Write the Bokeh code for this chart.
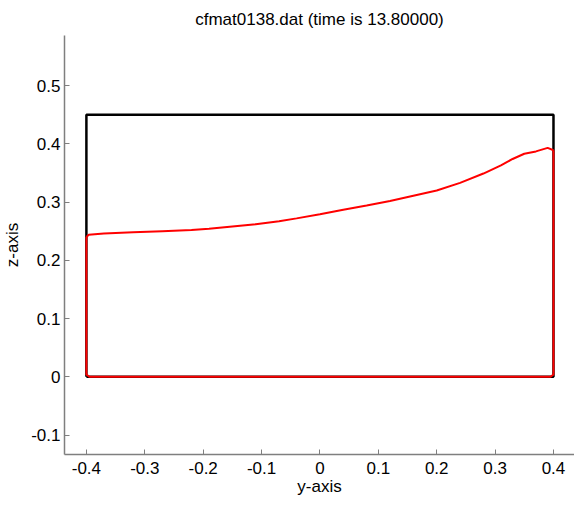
from bokeh.plotting import figure
from bokeh.models import Range1d, FixedTicker
from bokeh.embed import file_html
from bokeh.resources import INLINE

# Tank outline
tank_y = [-0.4, -0.4, 0.4, 0.4, -0.4]
tank_z = [0.0, 0.45, 0.45, 0.0, 0.0]

# Free surface (y, z)
surf_y = [-0.400, -0.396, -0.37, -0.32, -0.27, -0.22, -0.19, -0.15, -0.11, -0.07, -0.04,
          0.00, 0.04, 0.08, 0.12, 0.16, 0.20, 0.24, 0.28, 0.31, 0.33, 0.35, 0.37, 0.39, 0.40]
surf_z = [0.240, 0.244, 0.246, 0.248, 0.250, 0.252, 0.254, 0.258, 0.262, 0.267, 0.272,
          0.279, 0.287, 0.294, 0.302, 0.311, 0.320, 0.333, 0.349, 0.363, 0.374, 0.383, 0.387, 0.393, 0.389]

# Fluid outline below the surface: right wall, bottom, left wall
wall_y = [0.40, 0.40, 0.395, -0.395, -0.40, -0.40]
wall_z = [0.389, 0.004, 0.0, 0.0, 0.004, 0.240]

x_ticks = [-0.4, -0.3, -0.2, -0.1, 0.0, 0.1, 0.2, 0.3, 0.4]
x_labels = ["-0.4", "-0.3", "-0.2", "-0.1", "0", "0.1", "0.2", "0.3", "0.4"]
z_ticks = [-0.1, 0.0, 0.1, 0.2, 0.3, 0.4, 0.5]
z_labels = ["-0.1", "0", "0.1", "0.2", "0.3", "0.4", "0.5"]

FONT = "Liberation Sans"

p = figure(width=574, height=505, output_backend="svg", toolbar_location=None,
           x_range=Range1d(-0.4375, 0.436), y_range=Range1d(-0.1334, 0.586),
           min_border_left=64, min_border_right=0, min_border_top=35, min_border_bottom=51,
           title="cfmat0138.dat (time is 13.80000)")
p.title.align = "center"
p.title.text_font = FONT
p.title.text_font_size = "17px"
p.title.text_font_style = "normal"
p.title.text_color = "#000000"
p.title.standoff = 13

p.grid.visible = False
p.outline_line_color = None
p.background_fill_color = "white"
p.border_fill_color = "white"

for ax in (p.xaxis[0], p.yaxis[0]):
    ax.axis_line_color = "#7f7f7f"
    ax.axis_line_width = 1.5
    ax.major_tick_line_color = "#7f7f7f"
    ax.major_tick_in = 5
    ax.major_tick_out = 0
    ax.minor_tick_line_color = None
    ax.major_label_text_font = FONT
    ax.major_label_text_font_size = "17px"
    ax.major_label_text_color = "#000000"
    ax.axis_label_text_font = FONT
    ax.axis_label_text_font_size = "17px"
    ax.axis_label_text_font_style = "normal"
    ax.axis_label_text_color = "#000000"

p.xaxis.ticker = FixedTicker(ticks=x_ticks)
p.xaxis.major_label_overrides = {t: l for t, l in zip(x_ticks, x_labels)}
p.yaxis.ticker = FixedTicker(ticks=z_ticks)
p.yaxis.major_label_overrides = {t: l for t, l in zip(z_ticks, z_labels)}
p.xaxis.axis_label = "y-axis"
p.yaxis.axis_label = "z-axis"
p.xaxis.major_label_standoff = 7
p.yaxis.major_label_standoff = 4
p.xaxis.axis_label_standoff = 0
p.yaxis.axis_label_standoff = 6

p.line(tank_y, tank_z, line_color="black", line_width=2.5)
p.line(surf_y, surf_z, line_color="red", line_width=2)
p.line(wall_y, wall_z, line_color="red", line_width=2)

open("out.html", "w").write(file_html(p, INLINE))
